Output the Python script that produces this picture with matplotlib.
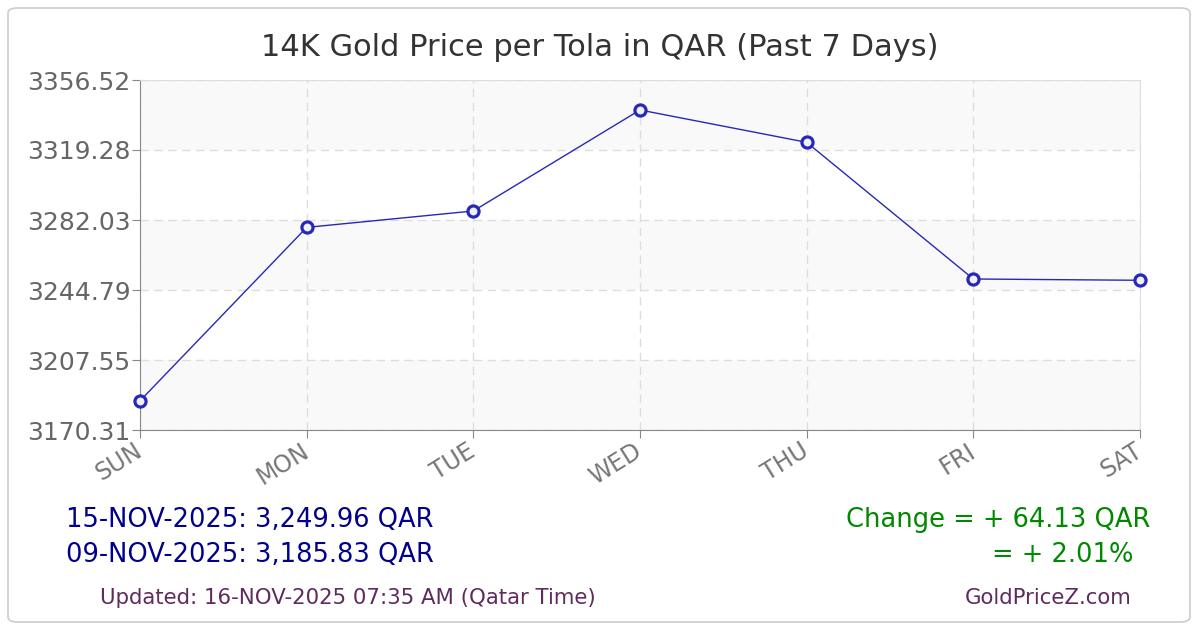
import matplotlib
matplotlib.use("Agg")
import matplotlib.pyplot as plt
from matplotlib.patches import FancyBboxPatch

# values
days = ["SUN", "MON", "TUE", "WED", "THU", "FRI", "SAT"]
prices = [3185.83, 3278.10, 3286.83, 3340.57, 3323.36, 3250.65, 3249.96]
yticks = [3170.31, 3207.55, 3244.79, 3282.03, 3319.28, 3356.52]

title = "14K Gold Price per Tola in QAR (Past 7 Days)"
latest_line = "15-NOV-2025: 3,249.96 QAR"
first_line = "09-NOV-2025: 3,185.83 QAR"
change_line = "Change = + 64.13 QAR"
pct_line = "= + 2.01%"
updated_line = "Updated: 16-NOV-2025 07:35 AM (Qatar Time)"
site = "GoldPriceZ.com"

plt.rcParams["font.family"] = ["DejaVu Sans"]

fig = plt.figure(figsize=(12, 6.3), dpi=100)
fig.patch.set_facecolor("white")

# rounded frame around the whole card
frame = FancyBboxPatch((8 / 1200, 8 / 630), 1182 / 1200, 614 / 630,
                       boxstyle="round,pad=0,rounding_size=0.008",
                       transform=fig.transFigure, fill=False,
                       edgecolor="#cccccc", linewidth=1.2)
fig.patches.append(frame)

ax = fig.add_axes([140 / 1200, 1 - 430 / 630, 1000 / 1200, 350 / 630])
x = list(range(len(days)))

# alternating bands between y ticks
for i in range(len(yticks) - 1):
    if i % 2 == 0:
        ax.axhspan(yticks[i], yticks[i + 1], color="#f9f9f9", zorder=0, lw=0)

ax.plot(x, prices, color="#2828b8", lw=1.0, zorder=3,
        marker="o", markersize=8, markerfacecolor="#f0f0fa",
        markeredgecolor="#2828b8", markeredgewidth=2.3, clip_on=False)

ax.set_xlim(0, len(days) - 1)
ax.set_ylim(yticks[0], yticks[-1])
ax.set_yticks(yticks)
ax.set_yticklabels([f"{v:.2f}" for v in yticks], fontsize=18, color="#666666")
ax.set_xticks(x)
ax.set_xticklabels(days, fontsize=17, color="#777777", rotation=32,
                   ha="right", va="center", rotation_mode="anchor")
for lab in ax.get_xticklabels():
    lab.set_y(-0.03)
ax.tick_params(axis="y", length=6, color="#888888", pad=1)
ax.tick_params(axis="x", length=6, color="#888888", pad=0)

ax.grid(True, color="#dddddd", linestyle=(0, (6, 4)), lw=1.0, zorder=1)
ax.set_axisbelow(True)
for side in ["left", "bottom"]:
    ax.spines[side].set_color("#888888")
for side in ["top", "right"]:
    ax.spines[side].set_color("#dddddd")
ax.set_facecolor("white")

fig.text(0.5, 1 - 48 / 630, title, ha="center", va="center",
         fontsize=22, color="#333333")

fig.text(66 / 1200, 1 - 520 / 630, latest_line, ha="left", va="center",
         fontsize=18.5, color="#00008b")
fig.text(66 / 1200, 1 - 555 / 630, first_line, ha="left", va="center",
         fontsize=18.5, color="#00008b")
fig.text(1150 / 1200, 1 - 520 / 630, change_line, ha="right", va="center",
         fontsize=18.5, color="#008800")
fig.text(1133 / 1200, 1 - 555 / 630, pct_line, ha="right", va="center",
         fontsize=18.5, color="#008800")
fig.text(100 / 1200, 1 - 598 / 630, updated_line, ha="left", va="center",
         fontsize=15.3, color="#5f2b5f")
fig.text(1131 / 1200, 1 - 598 / 630, site, ha="right", va="center",
         fontsize=15.3, color="#5f2b5f")

fig.savefig("out.png", dpi=100)
